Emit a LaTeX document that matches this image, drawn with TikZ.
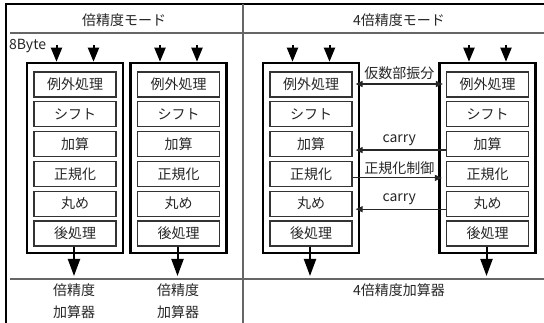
\documentclass[tikz,border=0pt]{standalone}
\usepackage{fontspec}
\setmainfont{Noto Sans CJK JP}
\usetikzlibrary{arrows.meta}
\begin{document}
\begin{tikzpicture}[x=1pt,y=-1pt,
  lbl/.style={font=\fontsize{14}{16}\selectfont, text=black!85, inner sep=0pt},
  stage/.style={draw=black!80, line width=1.3pt, minimum width=82pt, minimum height=25pt, inner sep=0pt, font=\fontsize{14}{16}\selectfont, text=black!85},
  unit/.style={draw=black, line width=2.6pt, minimum width=96pt, minimum height=190pt, inner sep=0pt},
  bigarrow/.style={draw=black, line width=2pt, -{Triangle[width=11pt,length=14pt]}},
  outarrow/.style={draw=black, line width=2pt, -{Triangle[width=12pt,length=17pt]}},
  smallarrow/.style={draw=black!85, line width=1.2pt},
  frame/.style={draw=black, line width=2pt},
  sep/.style={draw=black!60, line width=1.2pt}]
\useasboundingbox (0,0) rectangle (544,323);
% frame and separators
\draw[frame] (544,4) -- (6,4) -- (6,323);
\draw[sep] (10,33) -- (544,33);
\draw[sep] (10,279) -- (544,279);
\draw[sep] (243,4) -- (243,323);
% headers
\node[lbl] (h1) at (124,20) {倍精度モード};
\node[lbl] (h2) at (399,20) {4倍精度モード};
% units
\foreach \b/\L in {1/27, 2/130.5, 3/263, 4/439.5} {
  \node[unit] (u\b) at (\L+48,158) {};
  \foreach \i/\t in {1/例外処理, 2/シフト, 3/加算, 4/正規化, 5/丸め, 6/後処理} {
    \node[stage] (s\b-\i) at (\L+48, 84.5+29.8*\i-29.8) {\t};
  }
  \coordinate (ia\b) at (\L+48-18.5,45);
  \coordinate (ib\b) at (\L+48+18.5,45);
  \draw[bigarrow] (ia\b) -- (ia\b |- u\b.north);
  \draw[bigarrow] (ib\b) -- (ib\b |- u\b.north);
  \coordinate (o\b) at (\L+47,276);
  \draw[outarrow] (o\b |- s\b-6.south) -- (o\b);
}
\node[lbl, anchor=west] (byte) at (9,46) {8Byte};
% bottom labels
\node[lbl] (l1a) at (74,290) {倍精度};
\node[lbl] (l1b) at (74,312) {加算器};
\node[lbl] (l2a) at (178,290) {倍精度};
\node[lbl] (l2b) at (178,312) {加算器};
\node[lbl] (l3) at (399,290) {4倍精度加算器};
% inter-unit arrows
\draw[smallarrow, {Triangle[width=6pt,length=7pt]}-{Triangle[width=6pt,length=7pt]}, shorten <=3pt, shorten >=3pt]
  ([yshift=0.5pt]s3-1.east) -- node[lbl, midway, yshift=11pt] (t1) {仮数部振分} ([yshift=0.5pt]s4-1.west);
\draw[smallarrow, -{Triangle[width=6pt,length=7pt]}, shorten >=3pt]
  ([yshift=-6pt]s4-3.west) -- node[lbl, midway, yshift=10pt] (t2) {carry} ([yshift=-6pt]s3-3.east);
\draw[smallarrow, -{Triangle[width=6pt,length=7pt]}, shorten >=4pt]
  ([yshift=-4pt]s3-4.east) -- node[lbl, midway, yshift=10pt] (t3) {正規化制御} ([yshift=-4pt]s4-4.west);
\draw[smallarrow, -{Triangle[width=6pt,length=7pt]}, shorten >=3pt]
  ([yshift=-5.5pt]s4-5.west) -- node[lbl, midway, yshift=10pt] (t4) {carry} ([yshift=-5.5pt]s3-5.east);
\end{tikzpicture}
\end{document}
